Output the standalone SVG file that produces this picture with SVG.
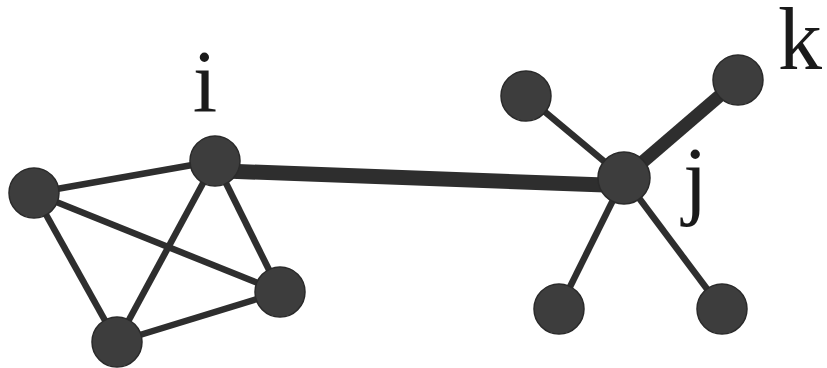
<svg xmlns="http://www.w3.org/2000/svg" width="827" height="368" viewBox="0 0 827 368">
<style>
.e{stroke:#2e2e2e;stroke-width:6.5;stroke-linecap:butt}
.t{stroke:#2e2e2e;stroke-width:15}
.n{fill:#3d3d3d;stroke:#2a2a2a;stroke-width:1.5}
.l{font-family:"Liberation Serif",serif;font-size:88px;fill:#1a1a1a}
</style>
<rect width="827" height="368" fill="#ffffff"/>
<g id="edges">
<line class="e" x1="34" y1="193" x2="215" y2="161"/>
<line class="e" x1="34" y1="193" x2="280" y2="292"/>
<line class="e" x1="34" y1="193" x2="117" y2="342"/>
<line class="e" x1="215" y1="161" x2="117" y2="342"/>
<line class="e" x1="215" y1="161" x2="280" y2="292"/>
<line class="e" x1="117" y1="342" x2="280" y2="292"/>
<line class="t" x1="225" y1="171" x2="605" y2="185"/>
<line class="t" x1="624" y1="178" x2="738" y2="80" style="stroke-width:13"/>
<line class="e" x1="526" y1="96" x2="624" y2="178"/>
<line class="e" x1="559" y1="309" x2="624" y2="178"/>
<line class="e" x1="722" y1="309" x2="624" y2="178"/>
</g>
<g id="node-a"><circle class="n" cx="34" cy="193" r="25"/></g>
<g id="node-i"><circle class="n" cx="215" cy="161" r="25"/><text class="l" x="205" y="111" text-anchor="middle">i</text></g>
<g id="node-c"><circle class="n" cx="280" cy="292" r="25"/></g>
<g id="node-d"><circle class="n" cx="117" cy="342" r="25"/></g>
<g id="node-j"><circle class="n" cx="624" cy="178" r="26"/><text class="l" x="683" y="208">j</text></g>
<g id="node-k"><circle class="n" cx="738" cy="80" r="25"/><text class="l" x="778" y="69">k</text></g>
<g id="node-tl"><circle class="n" cx="526" cy="96" r="25"/></g>
<g id="node-bl"><circle class="n" cx="559" cy="309" r="25"/></g>
<g id="node-br"><circle class="n" cx="722" cy="309" r="25"/></g>
</svg>
